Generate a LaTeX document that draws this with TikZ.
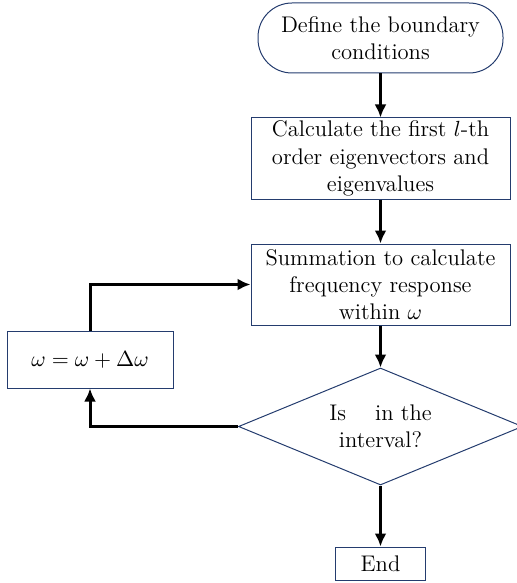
\documentclass[tikz,border=0pt]{standalone}
\usepackage{fontspec}
\usetikzlibrary{positioning,shapes.geometric,arrows.meta}
\definecolor{boxblue}{RGB}{36,60,110}
\tikzset{line/.style={draw, line width=1.5pt, -{Latex[length=6.5pt,width=6pt]}}}
\tikzset{block/.style={draw=boxblue, line width=0.5pt, align=center, inner sep=0pt, font=\fontsize{11.3}{13.6}\selectfont}}

\begin{document}
\begin{tikzpicture}[x=0.5pt,y=-0.5pt]
    \useasboundingbox (0,0) rectangle (516,583);
    % blocks
    \node[block, rounded corners=17pt, minimum width=122.5pt, minimum height=35pt] (bound) at (380.5,38) {Define the boundary\\conditions};
    \node[block, minimum width=129.5pt, minimum height=40.5pt] (eigen) at (380.5,158.5) {Calculate the first $l$-th\\order eigenvectors and\\eigenvalues};
    \node[block, minimum width=129.5pt, minimum height=40.5pt] (sum) at (380.5,284.5) {Summation to calculate\\frequency response\\within $\omega$};
    \node[block, minimum width=83pt, minimum height=28.5pt] (update) at (90,359.5) {$\omega=\omega+\Delta\omega$};
    \node[block, diamond, aspect=2.43, minimum width=142pt, minimum height=58.5pt] (check) at (380.5,426.5) {Is \phantom{$\omega$} in the\\interval?};
    \node[block, minimum width=45pt, minimum height=16.5pt] (stop) at (380.5,563.5) {End};
    % connectors
    \draw[line] (bound) -- (eigen);
    \draw[line] (eigen) -- (sum);
    \draw[line] (sum) -- (check);
    \draw[line] (check) -- (stop);
    \draw[line] (check.west) -| (update.south);
    \draw[line] (update.north) |- (sum.west);
\end{tikzpicture}
\end{document}
